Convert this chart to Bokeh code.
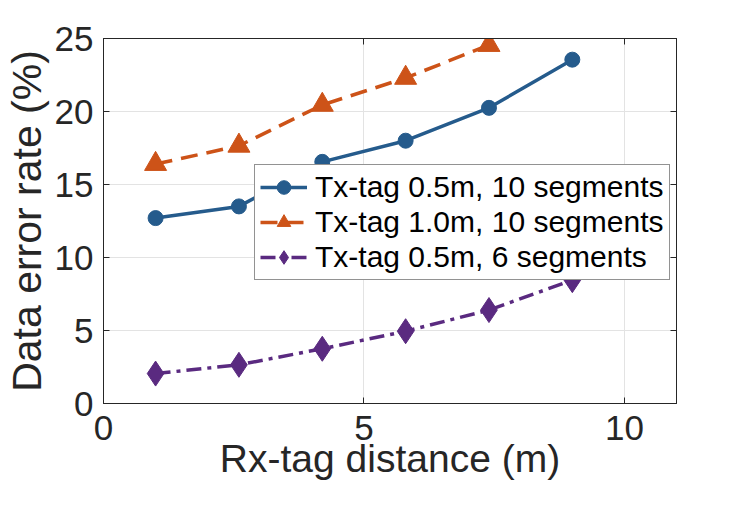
from bokeh.plotting import figure
from bokeh.models import LinearAxis, FixedTicker, Legend, LegendItem, Range1d
from bokeh.embed import file_html
from bokeh.resources import INLINE

# Data
distance = [1.0, 2.6, 4.2, 5.8, 7.4, 9.0]
distance_10seg_1m = [1.0, 2.6, 4.2, 5.8, 7.4]
err_05m_10seg = [12.7, 13.5, 16.55, 18.0, 20.25, 23.55]
err_10m_10seg = [16.4, 17.65, 20.45, 22.3, 24.55]
err_05m_6seg = [2.05, 2.65, 3.75, 4.95, 6.4, 8.45]

labels = ["Tx-tag 0.5m, 10 segments", "Tx-tag 1.0m, 10 segments", "Tx-tag 0.5m, 6 segments"]
x_ticks = [0, 5, 10]
y_ticks = [0, 5, 10, 15, 20, 25]
x_title = "Rx-tag distance (m)"
y_title = "Data error rate (%)"

FONT = "Liberation Sans"
AX = "#262626"
BLUE = "#255B8C"
ORANGE = "#CD5318"
PURPLE = "#5A2A80"

p = figure(width=726, height=490, output_backend="svg", toolbar_location=None,
           x_range=Range1d(0, 11), y_range=Range1d(0, 25),
           min_border_left=103, min_border_right=50, min_border_top=38, min_border_bottom=87)

p.background_fill_color = "white"
p.border_fill_color = "white"
p.outline_line_color = AX
p.outline_line_width = 1

for ax in (p.xaxis[0], p.yaxis[0]):
    ax.major_label_text_font = FONT
    ax.major_label_text_font_size = "35px"
    ax.major_label_text_color = AX
    ax.axis_label_text_font = FONT
    ax.axis_label_text_font_style = "normal"
    ax.axis_label_text_color = AX
    ax.axis_line_color = AX
    ax.major_tick_line_color = AX
    ax.major_tick_in = 6
    ax.major_tick_out = 0
    ax.minor_tick_line_color = None

p.xaxis[0].ticker = FixedTicker(ticks=x_ticks)
p.yaxis[0].ticker = FixedTicker(ticks=y_ticks)
p.xaxis[0].axis_label = x_title
p.yaxis[0].axis_label = y_title
p.xaxis[0].axis_label_text_font_size = "39px"
p.yaxis[0].axis_label_text_font_size = "41px"
p.xaxis[0].major_label_standoff = 12
p.yaxis[0].major_label_standoff = 10
p.xaxis[0].axis_label_standoff = -6
p.yaxis[0].axis_label_standoff = 2

for loc, tks in (("right", y_ticks), ("above", x_ticks)):
    a = LinearAxis(ticker=FixedTicker(ticks=tks), major_label_text_color=None,
                   major_label_text_font_size="1px",
                   major_tick_in=6, major_tick_out=0, minor_tick_line_color=None,
                   axis_line_color=AX, major_tick_line_color=AX, major_label_standoff=0)
    p.add_layout(a, loc)

p.xgrid.ticker = FixedTicker(ticks=x_ticks)
p.ygrid.ticker = FixedTicker(ticks=y_ticks)
p.grid.grid_line_color = "#E3E3E3"
p.grid.grid_line_width = 1

l1 = p.line(distance, err_05m_10seg, line_color=BLUE, line_width=3.5)
m1 = p.scatter(distance, err_05m_10seg, marker="circle", size=15, fill_color=BLUE, line_color=BLUE)

l2 = p.line(distance_10seg_1m, err_10m_10seg, line_color=ORANGE, line_width=3.5, line_dash="17 9")
m2 = p.scatter(distance_10seg_1m, err_10m_10seg, marker="triangle", size=22, fill_color=ORANGE, line_color=ORANGE)

l3 = p.line(distance, err_05m_6seg, line_color=PURPLE, line_width=3.5, line_dash="15 6 4 6")
m3 = p.scatter(distance, err_05m_6seg, marker="diamond", size=25, fill_color=PURPLE, line_color=PURPLE)

legend = Legend(items=[LegendItem(label=labels[0], renderers=[l1, m1]),
                       LegendItem(label=labels[1], renderers=[l2, m2]),
                       LegendItem(label=labels[2], renderers=[l3, m3])],
                location=(151, 123))
legend.label_text_font = FONT
legend.label_text_font_size = "30px"
legend.label_text_color = "black"
legend.glyph_width = 47
legend.glyph_height = 34
legend.label_height = 34
legend.label_standoff = 8
legend.spacing = 1
legend.padding = 5
legend.margin = 0
legend.border_line_color = AX
legend.border_line_width = 1
legend.background_fill_color = "white"
legend.background_fill_alpha = 1
p.add_layout(legend, "center")

open("out.html", "w").write(file_html(p, INLINE))
